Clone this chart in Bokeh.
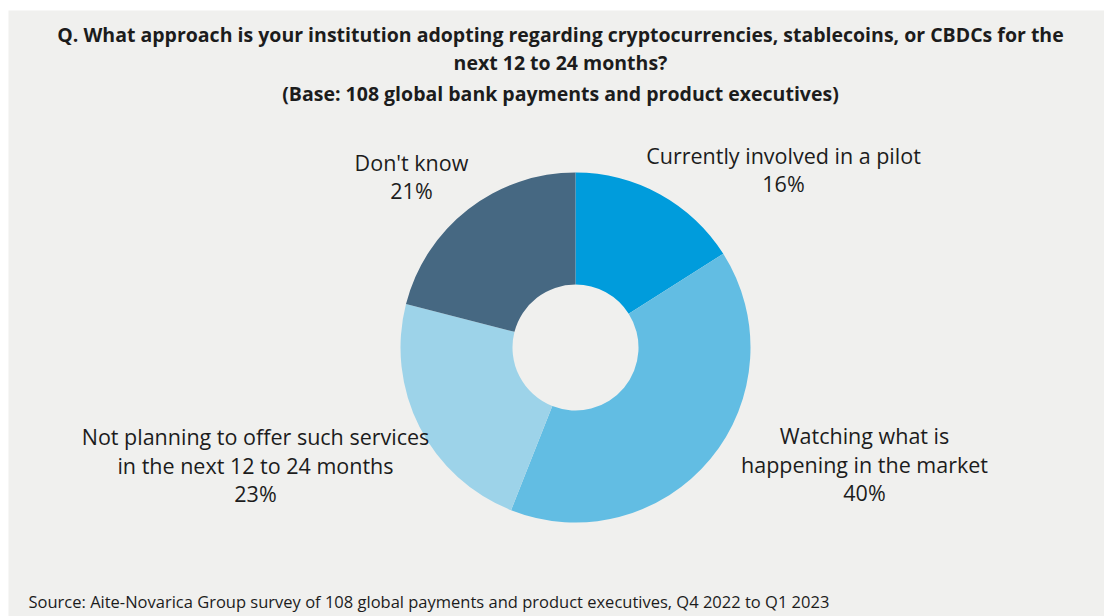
import math
from bokeh.plotting import figure
from bokeh.models import Range1d, ColumnDataSource
from bokeh.core.properties import value
from bokeh.embed import file_html
from bokeh.resources import INLINE

# ---- data ----
categories = ["Currently involved in a pilot",
              "Watching what is happening in the market",
              "Not planning to offer such services in the next 12 to 24 months",
              "Don't know"]
label_lines = [["Currently involved in a pilot"],
               ["Watching what is", "happening in the market"],
               ["Not planning to offer such services", "in the next 12 to 24 months"],
               ["Don't know"]]
shares = [16, 40, 23, 21]
colors = ["#009CDC", "#62BDE3", "#9DD3E9", "#466882"]

title_lines = ["Q. What approach is your institution adopting regarding cryptocurrencies, stablecoins, or CBDCs for the",
               "next 12 to 24 months?",
               "(Base: 108 global bank payments and product executives)"]
source_note = "Source: Aite-Novarica Group survey of 108 global payments and product executives, Q4 2022 to Q1 2023"

# ---- layout (pixel coordinates; y is negated pixel row) ----
W, H = 1104, 616
cx, cy = 575, 347
R_OUT, R_IN = 175, 63
label_pos = [(783, 183), (864, 492), (255, 493), (411, 190)]
LINE_H = 28.5
BG = "#F0F0EE"
TXT = "#1C1C1C"
FONT = "Open Sans"

p = figure(width=W, height=H, output_backend="svg", toolbar_location=None,
           x_range=Range1d(8, W), y_range=Range1d(-H, -10),
           min_border_left=8, min_border_top=10, min_border_right=0, min_border_bottom=0,
           background_fill_color=BG, border_fill_color="white")
p.axis.visible = False
p.grid.visible = False
p.outline_line_color = None

total = sum(shares)
starts, ends = [], []
cum = 0.0
for s in shares:
    a0 = math.pi / 2 - 2 * math.pi * (cum + s) / total
    a1 = math.pi / 2 - 2 * math.pi * cum / total
    starts.append(a0)
    ends.append(a1)
    cum += s

src = ColumnDataSource(dict(x=[cx] * len(shares), y=[-cy] * len(shares),
                            start=starts, end=ends, color=colors, cat=categories))
p.annular_wedge(x="x", y="y", inner_radius=R_IN, outer_radius=R_OUT,
                inner_radius_units="screen", outer_radius_units="screen",
                start_angle="start", end_angle="end", direction="anticlock",
                fill_color="color", line_color=None, source=src)

# slice labels
lx, ly, lt = [], [], []
for lines, s, (px, py) in zip(label_lines, shares, label_pos):
    all_lines = lines + [f"{s}%"]
    n = len(all_lines)
    for i, t in enumerate(all_lines):
        lx.append(px)
        ly.append(-(py - (n - 1 - i) * LINE_H))
        lt.append(t)
p.text(x=lx, y=ly, text=lt, text_align="center", text_baseline="middle",
       text_font=value(FONT), text_font_size="21.5px", text_color=TXT)

# title
title_y = [34, 62, 93]
p.text(x=[560] * 3, y=[-v for v in title_y], text=title_lines, text_align="center",
       text_baseline="middle", text_font=value(FONT), text_font_style="bold",
       text_font_size="19.5px", text_color=TXT)

# source note
p.text(x=[28], y=[-601], text=[source_note], text_align="left", text_baseline="middle",
       text_font=value(FONT), text_font_size="16.5px", text_color=TXT)

open("out.html", "w").write(file_html(p, INLINE))
